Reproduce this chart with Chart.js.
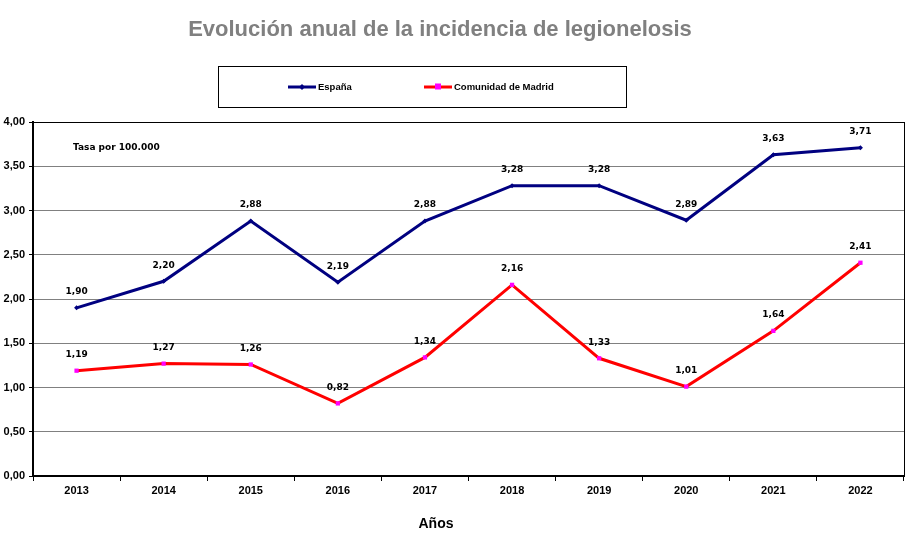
<!DOCTYPE html>
<html>
<head>
<meta charset="utf-8">
<script src="https://cdn.jsdelivr.net/npm/chart.js@4"></script>
<style>
  html, body { margin: 0; padding: 0; background: #fff; }
  #wrap { width: 916px; height: 544px; }
</style>
</head>
<body>
<div id="wrap"><canvas id="chart"></canvas></div>
<script>
var years = ["2013", "2014", "2015", "2016", "2017", "2018", "2019", "2020", "2021", "2022"];
var espana = [1.90, 2.20, 2.88, 2.19, 2.88, 3.28, 3.28, 2.89, 3.63, 3.71];
var madrid = [1.19, 1.27, 1.26, 0.82, 1.34, 2.16, 1.33, 1.01, 1.64, 2.41];
var seriesNames = ["España", "Comunidad de Madrid"];

function comma(v) {
  return Number(v).toFixed(2).replace(".", ",");
}

// title, legend box, notes and value labels
var decorations = {
  id: "decorations",
  beforeDatasetsDraw: function (chart) {
    var ctx = chart.ctx, a = chart.chartArea;
    ctx.save();
    ctx.strokeStyle = "#000";
    ctx.lineWidth = 1;
    ctx.strokeRect(a.left + 0.5, a.top + 0.5, a.right - a.left, a.bottom - a.top);
    ctx.restore();
  },
  afterDatasetsDraw: function (chart) {
    var ctx = chart.ctx;
    ctx.save();

    // value labels
    ctx.font = "bold 9px 'DejaVu Sans'";
    ctx.fillStyle = "#000";
    ctx.textAlign = "center";
    ctx.textBaseline = "middle";
    chart.data.datasets.forEach(function (ds, i) {
      chart.getDatasetMeta(i).data.forEach(function (pt, j) {
        ctx.fillText(comma(ds.data[j]), pt.x, pt.y - 16);
      });
    });

    // note
    ctx.textAlign = "left";
    ctx.fillText("Tasa por 100.000", 73, 148);

    // title
    ctx.font = "bold 22px 'Liberation Sans'";
    ctx.fillStyle = "#808080";
    ctx.textAlign = "center";
    ctx.fillText("Evolución anual de la incidencia de legionelosis", 440, 30);

    // x axis title
    ctx.font = "bold 14px 'Liberation Sans'";
    ctx.fillStyle = "#000";
    ctx.fillText("Años", 436, 524);

    // legend
    ctx.strokeStyle = "#000";
    ctx.lineWidth = 1;
    ctx.strokeRect(218.5, 66.5, 408, 41);
    var starts = [288, 424];
    ctx.font = "bold 9.5px 'Liberation Sans'";
    ctx.textAlign = "left";
    chart.data.datasets.forEach(function (ds, i) {
      var x = starts[i], y = 87;
      ctx.strokeStyle = ds.borderColor;
      ctx.lineWidth = 3;
      ctx.beginPath();
      ctx.moveTo(x, y);
      ctx.lineTo(x + 28, y);
      ctx.stroke();
      ctx.fillStyle = ds.pointBackgroundColor;
      if (i === 0) {
        ctx.beginPath();
        ctx.moveTo(x + 14, y - 3);
        ctx.lineTo(x + 17, y);
        ctx.lineTo(x + 14, y + 3);
        ctx.lineTo(x + 11, y);
        ctx.fill();
      } else {
        ctx.fillRect(x + 11, y - 3.5, 6, 6);
      }
      ctx.fillStyle = "#000";
      ctx.fillText(ds.label, x + 30, y);
    });

    ctx.restore();
  }
};

var ctx = document.getElementById("chart");

new Chart(ctx, {
  type: "line",
  data: {
    labels: years,
    datasets: [
      {
        label: seriesNames[0],
        data: espana,
        borderColor: "#000080",
        backgroundColor: "#000080",
        pointBackgroundColor: "#000080",
        pointBorderWidth: 0,
        borderWidth: 3,
        pointStyle: "rectRot",
        pointRadius: 2.5,
        tension: 0
      },
      {
        label: seriesNames[1],
        data: madrid,
        borderColor: "#FF0000",
        backgroundColor: "#FF00FF",
        pointBackgroundColor: "#FF00FF",
        pointBorderWidth: 0,
        borderWidth: 3,
        pointStyle: "rect",
        pointRadius: 3,
        tension: 0
      }
    ]
  },
  options: {
    responsive: true,
    maintainAspectRatio: false,
    animation: false,
    layout: { padding: { top: 122, right: 12, left: 0, bottom: 0 } },
    plugins: {
      legend: { display: false },
      title: { display: false },
      tooltip: { enabled: false }
    },
    scales: {
      x: {
        offset: true,
        afterFit: function (s) { s.height = 68; },
        grid: {
          offset: true,
          drawOnChartArea: false,
          drawTicks: true,
          tickLength: 5,
          tickColor: "#000"
        },
        border: { color: "#000", width: 2 },
        ticks: {
          color: "#000",
          padding: 3,
          font: { family: "'Liberation Sans'", weight: "bold", size: 11 }
        }
      },
      y: {
        min: 0,
        max: 4,
        afterFit: function (s) { s.width = 33; },
        grid: {
          color: "#808080",
          lineWidth: 1,
          tickLength: 4,
          tickColor: "#000"
        },
        border: { color: "#000", width: 2 },
        ticks: {
          stepSize: 0.5,
          color: "#000",
          padding: 4,
          font: { family: "'Liberation Sans'", weight: "bold", size: 11 },
          callback: function (v) { return comma(v); }
        }
      }
    }
  },
  plugins: [decorations]
});
</script>
</body>
</html>
